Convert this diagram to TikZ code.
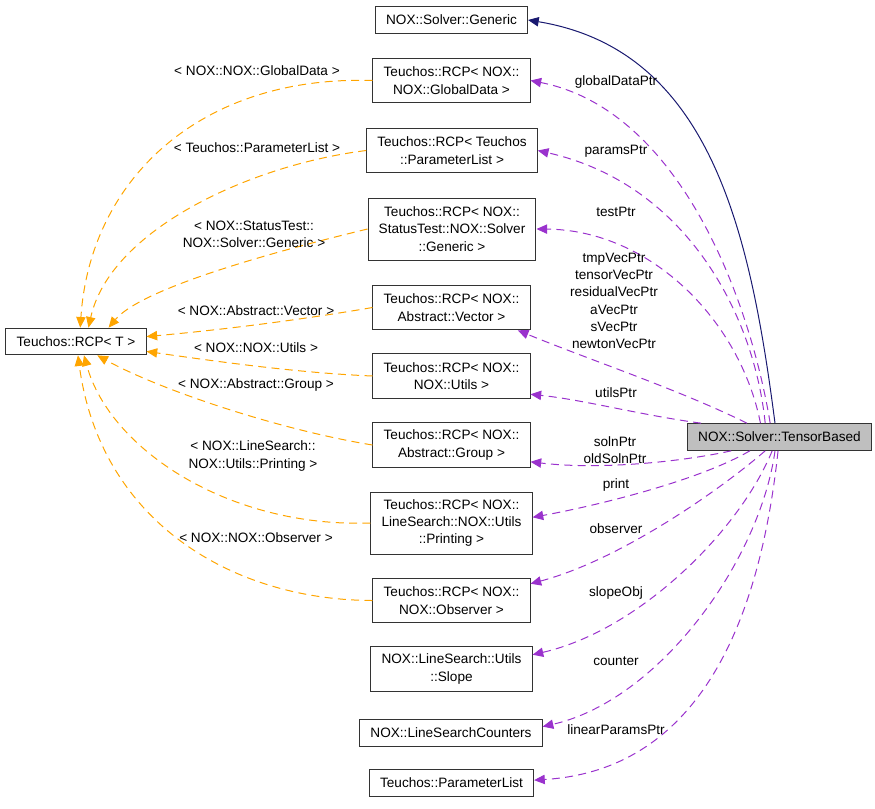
\documentclass[tikz,border=0pt]{standalone}
\usepackage{fontspec}
\setmainfont{Liberation Sans}
\usetikzlibrary{arrows.meta}
\definecolor{EdgeOrange}{HTML}{FFA500}
\definecolor{EdgePurple}{HTML}{9A32CD}
\definecolor{EdgeNavy}{HTML}{191970}
\definecolor{NodeGray}{HTML}{BFBFBF}

\begin{document}
\begin{tikzpicture}[x=0.75pt, y=-0.75pt,
    font=\fontsize{10.2}{13}\selectfont,
    cls/.style={draw=black!80, fill=white, line width=0.75pt, align=center,
                inner xsep=8pt, inner ysep=2pt, minimum height=20pt},
    cls2/.style={cls, minimum height=33.5pt},
    cls3/.style={cls, minimum height=46.5pt},
    lbl/.style={align=center, inner sep=0pt},
    tip/.style={-{Triangle[length=8pt, width=7pt]}},
    tmpl/.style={tip, color=EdgeOrange, line width=0.75pt, dash pattern=on 6pt off 4pt},
    memb/.style={tip, color=EdgePurple, line width=0.75pt, dash pattern=on 6pt off 4pt},
    inher/.style={tip, color=EdgeNavy, line width=0.75pt}]
  \useasboundingbox (0,0) rectangle (875,808);

  % Class boxes
  \node[cls, fill=NodeGray] (tb) at (779.5,437) {NOX::Solver::TensorBased};
  \node[cls] (rcp) at (76,341.5) {Teuchos::RCP< T >};
  \node[cls] (gen) at (451.5,20) {NOX::Solver::Generic};
  \node[cls2] (rgd) at (451.5,80.5) {Teuchos::RCP< NOX::\\NOX::GlobalData >};
  \node[cls2] (rpl) at (452,150.5) {Teuchos::RCP< Teuchos\\::ParameterList >};
  \node[cls3] (rst) at (452,229) {Teuchos::RCP< NOX::\\StatusTest::NOX::Solver\\::Generic >};
  \node[cls2] (rv) at (451.5,307.5) {Teuchos::RCP< NOX::\\Abstract::Vector >};
  \node[cls2] (ru) at (451.5,376) {Teuchos::RCP< NOX::\\NOX::Utils >};
  \node[cls2] (rg) at (451.5,445) {Teuchos::RCP< NOX::\\Abstract::Group >};
  \node[cls3] (rpr) at (451.5,523) {Teuchos::RCP< NOX::\\LineSearch::NOX::Utils\\::Printing >};
  \node[cls2] (ro) at (451.5,600.5) {Teuchos::RCP< NOX::\\NOX::Observer >};
  \node[cls2] (sl) at (451.5,669) {NOX::LineSearch::Utils\\::Slope};
  \node[cls] (lsc) at (451,733) {NOX::LineSearchCounters};
  \node[cls] (pl) at (451.5,783) {Teuchos::ParameterList};

  % Template instances
  \draw[tmpl] (rgd.west) .. controls (200,75) and (90,180) .. (rcp.73);
  \draw[tmpl] (rpl.west) .. controls (250,165) and (110,230) .. (rcp.48);
  \draw[tmpl] (rst.west) .. controls (260,255) and (140,290) .. (rcp.23);
  \draw[tmpl] (rv.west) .. controls (300,320) and (220,330) .. (rcp.4);
  \draw[tmpl] (ru.west) .. controls (300,373) and (220,362) .. (rcp.-8);
  \draw[tmpl] (rg.west) .. controls (280,430) and (160,390) .. (rcp.-33);
  \draw[tmpl] (rpr.west) .. controls (230,528) and (110,450) .. (rcp.-60);
  \draw[tmpl] (ro.west) .. controls (230,600) and (100,520) .. (rcp.-82);

  \node[lbl] (lgd) at (257,71) {< NOX::NOX::GlobalData >};
  \node[lbl] (lpl) at (257,148) {< Teuchos::ParameterList >};
  \node[lbl] (lst) at (254,234) {< NOX::StatusTest::\\NOX::Solver::Generic >};
  \node[lbl] (lv) at (256,311) {< NOX::Abstract::Vector >};
  \node[lbl] (lu) at (256,348) {< NOX::NOX::Utils >};
  \node[lbl] (lg) at (256,385) {< NOX::Abstract::Group >};
  \node[lbl] (lpr) at (253,456) {< NOX::LineSearch::\\NOX::Utils::Printing >};
  \node[lbl] (lo) at (256,538) {< NOX::NOX::Observer >};

  % Base class
  \draw[inher] (tb.108) .. controls (750,230) and (710,50) .. (gen.east);

  % Members
  \draw[memb] (tb.124) .. controls (750,300) and (680,110) .. (rgd.east);
  \draw[memb] (tb.136) .. controls (755,320) and (690,185) .. (rpl.east);
  \draw[memb] (tb.144) .. controls (740,320) and (650,230) .. (rst.east);
  \draw[memb] (tb.157) .. controls (680,390) and (590,360) .. (rv.-19);
  \draw[memb] (tb.170) .. controls (640,415) and (585,400) .. (ru.-13);
  \draw[memb] (tb.196) .. controls (680,462) and (600,470) .. (rg.-12);
  \draw[memb] (tb.205) .. controls (700,480) and (600,505) .. (rpr.4);
  \draw[memb] (tb.224) .. controls (720,490) and (620,560) .. (ro.12);
  \draw[memb] (tb.242) .. controls (740,530) and (640,630) .. (sl.10);
  \draw[memb] (tb.252) .. controls (760,560) and (660,700) .. (lsc.4);
  \draw[memb] (tb.264) .. controls (760,620) and (700,770) .. (pl.2);

  \node[lbl] (mgd) at (616,82) {globalDataPtr};
  \node[lbl] (mpl) at (616,151) {paramsPtr};
  \node[lbl] (mst) at (616,212) {testPtr};
  \node[lbl] (mv) at (614,301) {tmpVecPtr\\tensorVecPtr\\residualVecPtr\\aVecPtr\\sVecPtr\\newtonVecPtr};
  \node[lbl] (mu) at (616,393) {utilsPtr};
  \node[lbl] (mg) at (615,450) {solnPtr\\oldSolnPtr};
  \node[lbl] (mpr) at (616,485) {print};
  \node[lbl] (mo) at (616,529) {observer};
  \node[lbl] (msl) at (616,593) {slopeObj};
  \node[lbl] (mlsc) at (616,661) {counter};
  \node[lbl] (mpl2) at (616,730) {linearParamsPtr};
\end{tikzpicture}
\end{document}
